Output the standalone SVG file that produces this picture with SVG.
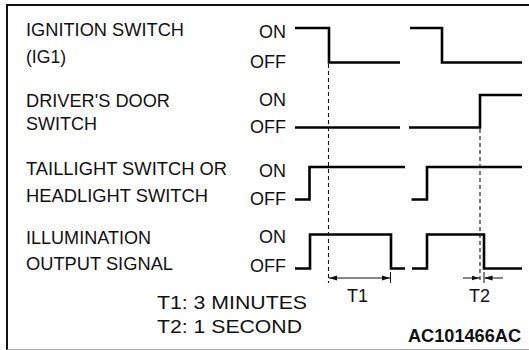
<svg xmlns="http://www.w3.org/2000/svg" width="529" height="350" viewBox="0 0 529 350">
<defs>
<marker id="arr" viewBox="0 0 8 6" refX="8" refY="3" markerWidth="8" markerHeight="6" markerUnits="userSpaceOnUse" orient="auto-start-reverse">
<path d="M0,0.6 L8,3 L0,5.4 Z" fill="#111"/>
</marker>
<style>
text{font-family:"Liberation Sans",Arial,Helvetica,sans-serif;font-size:18px;fill:#111}
.r{text-anchor:end}
.b{font-weight:bold}
.w{fill:none;stroke:#000;stroke-width:2.6;stroke-linejoin:miter;stroke-linecap:butt}
.d{fill:none;stroke:#111;stroke-width:1.1;stroke-dasharray:4 3}
.t{fill:none;stroke:#111;stroke-width:1}
</style>
</defs>
<rect x="7" y="5" width="540" height="345" fill="#fff"/>
<path d="M7,350 V5 H529" fill="none" stroke="#111" stroke-width="2"/>
<path d="M7,349.5 H529" fill="none" stroke="#aaa" stroke-width="1"/>

<g id="ignition">
<text x="26" y="36" textLength="158" lengthAdjust="spacingAndGlyphs">IGNITION SWITCH</text>
<text x="26" y="63" textLength="40" lengthAdjust="spacingAndGlyphs">(IG1)</text>
<text class="r" x="286" y="38">ON</text>
<text class="r" x="286" y="68">OFF</text>
<path class="w" d="M295,28 H329 V62.5 H400"/>
<path class="w" d="M410,28 H442 V62.5 H522"/>
</g>

<g id="door">
<text x="26" y="107" textLength="144" lengthAdjust="spacingAndGlyphs">DRIVER'S DOOR</text>
<text x="26" y="130" textLength="71" lengthAdjust="spacingAndGlyphs">SWITCH</text>
<text class="r" x="286" y="106">ON</text>
<text class="r" x="286" y="133">OFF</text>
<path class="w" d="M295,127.5 H400"/>
<path class="w" d="M409,127.5 H480 V95 H522"/>
</g>

<g id="taillight">
<text x="26" y="175" textLength="201" lengthAdjust="spacingAndGlyphs">TAILLIGHT SWITCH OR</text>
<text x="26" y="202" textLength="182" lengthAdjust="spacingAndGlyphs">HEADLIGHT SWITCH</text>
<text class="r" x="286" y="177">ON</text>
<text class="r" x="286" y="205">OFF</text>
<path class="w" d="M295,199.5 H309.5 V167 H405"/>
<path class="w" d="M411.5,199.5 H427 V167 H522"/>
</g>

<g id="illumination">
<text x="26" y="244" textLength="125" lengthAdjust="spacingAndGlyphs">ILLUMINATION</text>
<text x="26" y="270" textLength="147" lengthAdjust="spacingAndGlyphs">OUTPUT SIGNAL</text>
<text class="r" x="286" y="243">ON</text>
<text class="r" x="286" y="272">OFF</text>
<path class="w" d="M295,268.5 H310 V234.5 H391 V268.5 H405"/>
<path class="w" d="M412,268.5 H427 V234.5 H484 V268.5 H522"/>
</g>

<g id="connectors">
<path class="d" d="M328.5,64 V283"/>
<path class="d" d="M480,129 V283"/>
<path class="t" d="M390.5,272 V283"/>
<path class="t" d="M484,272 V283"/>
<path class="t" d="M329,278 H390" marker-start="url(#arr)" marker-end="url(#arr)"/>
<path class="t" d="M463,278 H479.5" marker-end="url(#arr)"/>
<path class="t" d="M503,278 H484.5" marker-end="url(#arr)"/>
</g>

<g id="legend">
<text x="347" y="302">T1</text>
<text x="469" y="302">T2</text>
<text x="157" y="309" textLength="150" lengthAdjust="spacingAndGlyphs">T1: 3 MINUTES</text>
<text x="157" y="333" textLength="145" lengthAdjust="spacingAndGlyphs">T2: 1 SECOND</text>
<text class="b" x="408" y="342" textLength="113" lengthAdjust="spacingAndGlyphs">AC101466AC</text>
</g>
</svg>
